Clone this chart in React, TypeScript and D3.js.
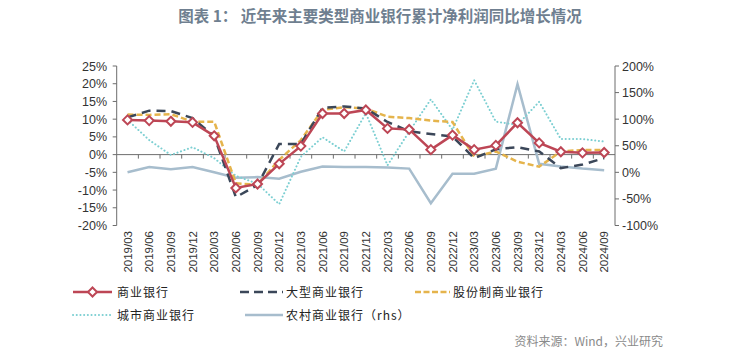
import React from "react";
import * as d3 from "d3";

const categories = [
  "2019/03","2019/06","2019/09","2019/12","2020/03","2020/06","2020/09","2020/12",
  "2021/03","2021/06","2021/09","2021/12","2022/03","2022/06","2022/09","2022/12",
  "2023/03","2023/06","2023/09","2023/12","2024/03","2024/06","2024/09",
];
const commercial = [9.8,9.6,9.4,9.1,5.3,-9.4,-8.3,-2.6,2.4,11.6,11.6,12.6,7.4,7.1,1.4,5.5,1.4,2.6,9.0,3.3,0.8,0.5,0.6];
const large = [10.5,12.4,12.3,10.3,5.2,-12.0,-8.6,3.0,3.0,13.2,13.6,13.0,9.2,6.6,5.8,5.1,-1.0,1.5,2.1,0.9,-3.8,-2.8,-1.0];
const joint = [11.3,11.2,11.4,9.3,9.3,-8.1,-8.5,-1.5,4.1,12.6,13.4,13.0,10.7,10.3,9.6,9.2,-0.6,0.9,-2.0,-3.4,0.9,1.3,1.3];
const city = [9.8,4.1,-0.1,2.1,-1.0,-6.0,-8.2,-14.0,-0.6,4.9,0.9,11.7,-3.0,6.5,15.6,7.0,21.0,9.3,8.4,14.9,4.4,4.4,3.7];
const rural = [0,10,6,10,0,-10,-9,-12,1,11,10,10,9,7,-58,-2.5,-2.5,7,166,16,11,7,4];

const leftTicks = [-20,-15,-10,-5,0,5,10,15,20,25];
const rightTicks = [-100,-50,0,50,100,150,200];

const legendNames = ["商业银行","大型商业银行","股份制商业银行","城市商业银行","农村商业银行（rhs）"];

const COLORS = {
  commercial: "#bd4655",
  large: "#3b4759",
  joint: "#e5b44c",
  city: "#7ccfd2",
  rural: "#a7bdcd",
};

export default function App() {
  const W = 741, H = 357;
  const left = 116.7, right = 615, top = 66, bottom = 225.5;
  const x = d3.scaleBand<string>().domain(categories).range([left, right]).padding(0);
  const cx = (c: string) => (x(c) as number) + x.bandwidth() / 2;
  const yL = d3.scaleLinear().domain([-20, 25]).range([bottom, top]);
  const yR = d3.scaleLinear().domain([-100, 200]).range([bottom, top]);

  const lineL = d3.line<number>().x((_, i) => cx(categories[i])).y((v) => yL(v));
  const lineR = d3.line<number>().x((_, i) => cx(categories[i])).y((v) => yR(v));

  const axisColor = "#6d6d6d";
  const tickFont = "'Liberation Sans', Arial, sans-serif";
  const cjk = "'Noto Sans CJK SC', sans-serif";
  const y0 = yL(0);

  const diamond = (px: number, py: number, s: number) =>
    `M${px},${py - s}L${px + s},${py}L${px},${py + s}L${px - s},${py}Z`;

  return (
    <svg width={W} height={H} style={{ position: "absolute", left: 0, top: 0, background: "#fff" }}>
      <text x={380} y={22} textAnchor="middle" fontFamily={cjk} fontWeight="bold" fontSize={15.5} fill="#6f7f90">
        图表 1：  近年来主要类型商业银行累计净利润同比增长情况
      </text>

      {/* left axis */}
      <line x1={left} x2={left} y1={top} y2={bottom} stroke={axisColor} strokeWidth={1} />
      {leftTicks.map((t) => (
        <g key={"l" + t}>
          <line x1={left - 4} x2={left} y1={yL(t)} y2={yL(t)} stroke={axisColor} />
          <text x={107} y={yL(t) + 4.5} textAnchor="end" fontFamily={tickFont} fontSize={12.5} fill="#333">
            {t}%
          </text>
        </g>
      ))}
      {/* right axis */}
      <line x1={right} x2={right} y1={top} y2={bottom} stroke={axisColor} strokeWidth={1} />
      {rightTicks.map((t) => (
        <g key={"r" + t}>
          <line x1={right} x2={right + 4} y1={yR(t)} y2={yR(t)} stroke={axisColor} />
          <text x={622} y={yR(t) + 4.5} textAnchor="start" fontFamily={tickFont} fontSize={12.5} fill="#333">
            {t}%
          </text>
        </g>
      ))}
      {/* zero line with category ticks */}
      <line x1={left} x2={right} y1={y0} y2={y0} stroke={axisColor} strokeWidth={1} />
      {categories.slice(1).map((c) => (
        <line key={"t" + c} x1={x(c) as number} x2={x(c) as number} y1={y0} y2={y0 + 4} stroke={axisColor} />
      ))}
      {/* x labels */}
      {categories.map((c) => (
        <text
          key={"x" + c}
          transform={`translate(${cx(c) + 4},${231}) rotate(-90)`}
          textAnchor="end"
          fontFamily={tickFont}
          fontSize={11.5}
          fill="#333"
        >
          {c}
        </text>
      ))}

      {/* series */}
      <path d={lineR(rural) || ""} fill="none" stroke={COLORS.rural} strokeWidth={2.5} />
      <path d={lineL(city) || ""} fill="none" stroke={COLORS.city} strokeWidth={2} strokeDasharray="0.1,3.6" strokeLinecap="round" />
      <path d={lineL(joint) || ""} fill="none" stroke={COLORS.joint} strokeWidth={2.5} strokeDasharray="6,3" />
      <path d={lineL(large) || ""} fill="none" stroke={COLORS.large} strokeWidth={2.5} strokeDasharray="9,6" />
      <path d={lineL(commercial) || ""} fill="none" stroke={COLORS.commercial} strokeWidth={2.5} />
      {commercial.map((v, i) => (
        <path key={"d" + i} d={diamond(cx(categories[i]), yL(v), 4.5)} fill="#fff" stroke={COLORS.commercial} strokeWidth={2} />
      ))}

      {/* legend */}
      <g fontFamily={cjk} fontSize={12} fill="#222" letterSpacing={1}>
        <line x1={73} x2={112} y1={292} y2={292} stroke={COLORS.commercial} strokeWidth={2.5} />
        <path d={diamond(92.5, 292, 4.5)} fill="#fff" stroke={COLORS.commercial} strokeWidth={2} />
        <text x={117} y={296.5}>{legendNames[0]}</text>

        <line x1={240} x2={283} y1={292} y2={292} stroke={COLORS.large} strokeWidth={2.5} strokeDasharray="9,5" />
        <text x={286} y={296.5}>{legendNames[1]}</text>

        <line x1={415} x2={450} y1={292} y2={292} stroke={COLORS.joint} strokeWidth={2.5} strokeDasharray="6,2.5" />
        <text x={453} y={296.5}>{legendNames[2]}</text>

        <line x1={73} x2={112} y1={315} y2={315} stroke={COLORS.city} strokeWidth={2} strokeDasharray="0.1,3.6" strokeLinecap="round" />
        <text x={117} y={319.5}>{legendNames[3]}</text>

        <line x1={245} x2={283} y1={315} y2={315} stroke={COLORS.rural} strokeWidth={2.5} />
        <text x={286} y={319.5}>{legendNames[4]}</text>
      </g>

      <text x={663} y={346} textAnchor="end" fontFamily={cjk} fontSize={12} fill="#8a8a8a">
        资料来源：Wind，兴业研究
      </text>
    </svg>
  );
}
